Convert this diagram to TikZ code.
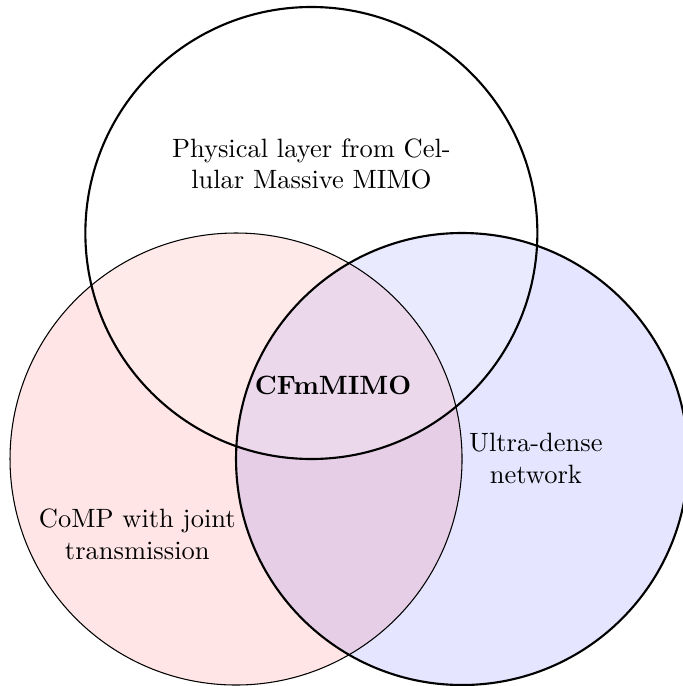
\documentclass[tikz,border=0pt]{standalone}
\usepackage{tikz}
\definecolor{lensfill}{RGB}{230,207,230}
\tikzset{
  setlabel/.style={align=center, inner sep=0pt},
  thinrim/.style={draw=black, line width=0.4pt},
  thickrim/.style={draw=black, line width=0.8pt}
}
\begin{document}
\begin{tikzpicture}
  \useasboundingbox (-3.133,-3.013) rectangle (5.920,6.093);
  % set fills
  \fill[red!10] (0,0) circle (3);
  \fill[blue!10] (3,0) circle (3);
  \begin{scope}
    \clip (0,0) circle (3);
    \fill[lensfill] (3,0) circle (3);
  \end{scope}
  \fill[white, fill opacity=0.2] (1,3) circle (3);
  % rims
  \path[thinrim] (0,0) circle (3);
  \path[thickrim] (3,0) circle (3);
  \path[thickrim] (1,3) circle (3);
  % labels
  \node[setlabel] (phy) at (1.0,3.916) {Physical layer from Cel-\\lular Massive MIMO};
  \node[setlabel] (cf) at (1.288,0.982) {\textbf{CFmMIMO}};
  \node[setlabel] (udn) at (3.98,0.01) {Ultra-dense\\network};
  \node[setlabel] (comp) at (-1.31,-1.00) {CoMP with joint\\transmission};
\end{tikzpicture}
\end{document}
